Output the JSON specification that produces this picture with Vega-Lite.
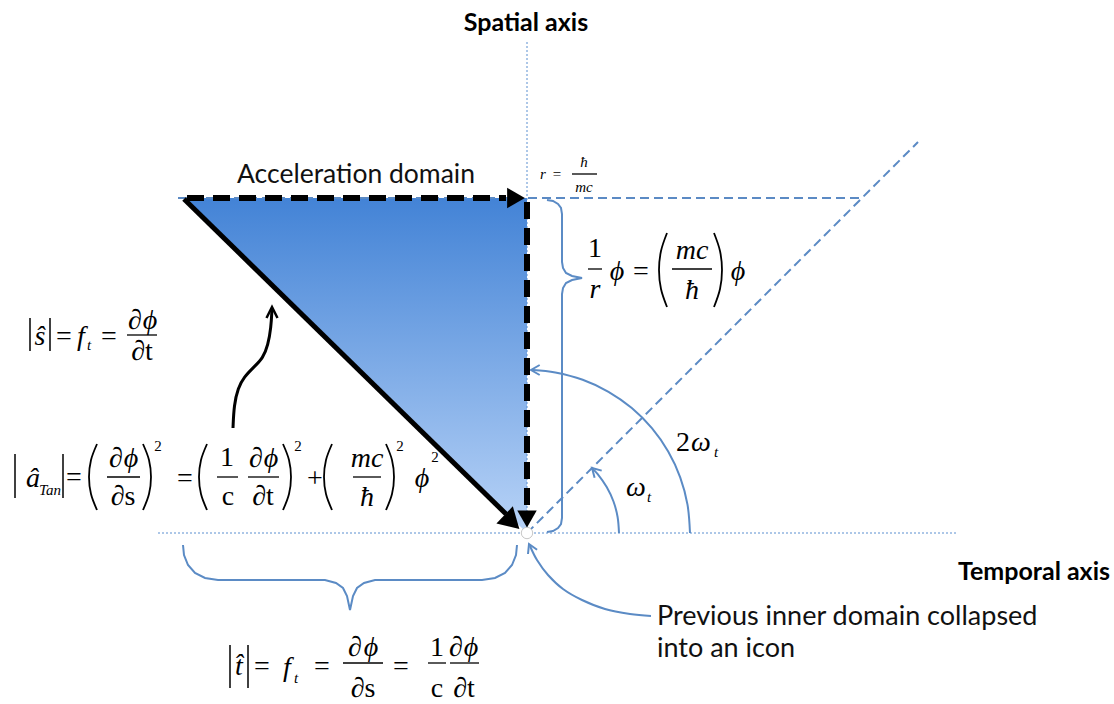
{
  "$schema": "https://vega.github.io/schema/vega-lite/v6.json",
  "width": 1114,
  "height": 704,
  "autosize": {"type": "none"},
  "padding": 0,
  "background": "white",
  "config": {"view": {"stroke": null}},
  "datasets": {
    "tri": [{"x": 183, "y": 198, "y2": 198}, {"x": 527, "y": 198, "y2": 533}],
    "lines": [
      {"g": "dot", "id": "va", "o": 0, "x": 527, "y": 42}, {"g": "dot", "id": "va", "o": 1, "x": 527, "y": 533},
      {"g": "dot", "id": "ha", "o": 0, "x": 158, "y": 533}, {"g": "dot", "id": "ha", "o": 1, "x": 958, "y": 533},
      {"g": "dash", "id": "hd", "o": 0, "x": 178, "y": 198}, {"g": "dash", "id": "hd", "o": 1, "x": 862, "y": 198},
      {"g": "dash", "id": "dd", "o": 0, "x": 527, "y": 533}, {"g": "dash", "id": "dd", "o": 1, "x": 918, "y": 142},
      {"g": "kd", "id": "kh", "o": 0, "x": 187, "y": 198}, {"g": "kd", "id": "kh", "o": 1, "x": 506, "y": 198},
      {"g": "kd", "id": "kv", "o": 0, "x": 527, "y": 202}, {"g": "kd", "id": "kv", "o": 1, "x": 527, "y": 510},
      {"g": "ks", "id": "kg", "o": 0, "x": 184, "y": 199}, {"g": "ks", "id": "kg", "o": 1, "x": 506, "y": 514},
      {"g": "kc", "id": "cur", "o": 0, "x": 233, "y": 428}, {"g": "kc", "id": "cur", "o": 1, "x": 234, "y": 405},
      {"g": "kc", "id": "cur", "o": 2, "x": 238, "y": 388}, {"g": "kc", "id": "cur", "o": 3, "x": 244, "y": 377},
      {"g": "kc", "id": "cur", "o": 4, "x": 254, "y": 367}, {"g": "kc", "id": "cur", "o": 5, "x": 263, "y": 358},
      {"g": "kc", "id": "cur", "o": 6, "x": 268, "y": 345}, {"g": "kc", "id": "cur", "o": 7, "x": 271, "y": 328},
      {"g": "kc", "id": "cur", "o": 8, "x": 272, "y": 309},
      {"g": "kch", "id": "ch0", "o": 0, "x": 266.5, "y": 318}, {"g": "kch", "id": "ch0", "o": 1, "x": 272, "y": 307}, {"g": "kch", "id": "ch0", "o": 2, "x": 277.5, "y": 318},
      {"g": "bl", "id": "rb", "o": 0, "x": 547, "y": 200}, {"g": "bl", "id": "rb", "o": 1, "x": 553, "y": 201},
      {"g": "bl", "id": "rb", "o": 2, "x": 558, "y": 204}, {"g": "bl", "id": "rb", "o": 3, "x": 561, "y": 208},
      {"g": "bl", "id": "rb", "o": 4, "x": 562, "y": 214}, {"g": "bl", "id": "rb", "o": 5, "x": 562, "y": 262},
      {"g": "bl", "id": "rb", "o": 6, "x": 563, "y": 268}, {"g": "bl", "id": "rb", "o": 7, "x": 566, "y": 273},
      {"g": "bl", "id": "rb", "o": 8, "x": 572, "y": 276}, {"g": "bl", "id": "rb", "o": 9, "x": 582, "y": 278},
      {"g": "bl", "id": "rb", "o": 10, "x": 572, "y": 280}, {"g": "bl", "id": "rb", "o": 11, "x": 566, "y": 283},
      {"g": "bl", "id": "rb", "o": 12, "x": 563, "y": 288}, {"g": "bl", "id": "rb", "o": 13, "x": 562, "y": 294},
      {"g": "bl", "id": "rb", "o": 14, "x": 562, "y": 518}, {"g": "bl", "id": "rb", "o": 15, "x": 561, "y": 524},
      {"g": "bl", "id": "rb", "o": 16, "x": 558, "y": 528}, {"g": "bl", "id": "rb", "o": 17, "x": 553, "y": 531},
      {"g": "bl", "id": "rb", "o": 18, "x": 547, "y": 532},
      {"g": "bl", "id": "bb", "o": 0, "x": 183, "y": 545}, {"g": "bl", "id": "bb", "o": 1, "x": 184, "y": 555},
      {"g": "bl", "id": "bb", "o": 2, "x": 188, "y": 565}, {"g": "bl", "id": "bb", "o": 3, "x": 195, "y": 573},
      {"g": "bl", "id": "bb", "o": 4, "x": 205, "y": 578}, {"g": "bl", "id": "bb", "o": 5, "x": 218, "y": 580},
      {"g": "bl", "id": "bb", "o": 6, "x": 325, "y": 580}, {"g": "bl", "id": "bb", "o": 7, "x": 336, "y": 583},
      {"g": "bl", "id": "bb", "o": 8, "x": 343, "y": 588}, {"g": "bl", "id": "bb", "o": 9, "x": 347, "y": 596},
      {"g": "bl", "id": "bb", "o": 10, "x": 350, "y": 610}, {"g": "bl", "id": "bb", "o": 11, "x": 353, "y": 596},
      {"g": "bl", "id": "bb", "o": 12, "x": 357, "y": 588}, {"g": "bl", "id": "bb", "o": 13, "x": 364, "y": 583},
      {"g": "bl", "id": "bb", "o": 14, "x": 375, "y": 580}, {"g": "bl", "id": "bb", "o": 15, "x": 482, "y": 580},
      {"g": "bl", "id": "bb", "o": 16, "x": 495, "y": 578}, {"g": "bl", "id": "bb", "o": 17, "x": 505, "y": 573},
      {"g": "bl", "id": "bb", "o": 18, "x": 512, "y": 565}, {"g": "bl", "id": "bb", "o": 19, "x": 516, "y": 555},
      {"g": "bl", "id": "bb", "o": 20, "x": 517, "y": 545},
      {"g": "blc", "id": "a2", "o": 0, "x": 690, "y": 533}, {"g": "blc", "id": "a2", "o": 1, "x": 687.5, "y": 504.7},
      {"g": "blc", "id": "a2", "o": 2, "x": 680.2, "y": 477.3}, {"g": "blc", "id": "a2", "o": 3, "x": 668.2, "y": 451.5},
      {"g": "blc", "id": "a2", "o": 4, "x": 651.9, "y": 428.2}, {"g": "blc", "id": "a2", "o": 5, "x": 631.8, "y": 408.1},
      {"g": "blc", "id": "a2", "o": 6, "x": 608.5, "y": 391.8}, {"g": "blc", "id": "a2", "o": 7, "x": 582.7, "y": 379.8},
      {"g": "blc", "id": "a2", "o": 8, "x": 555.3, "y": 372.5}, {"g": "blc", "id": "a2", "o": 9, "x": 533, "y": 370.1},
      {"g": "blc", "id": "a1", "o": 0, "x": 619, "y": 533}, {"g": "blc", "id": "a1", "o": 1, "x": 617.6, "y": 517},
      {"g": "blc", "id": "a1", "o": 2, "x": 613.5, "y": 501.5}, {"g": "blc", "id": "a1", "o": 3, "x": 606.7, "y": 487},
      {"g": "blc", "id": "a1", "o": 4, "x": 597.5, "y": 473.9}, {"g": "blc", "id": "a1", "o": 5, "x": 592, "y": 468.5},
      {"g": "blc", "id": "co", "o": 0, "x": 651, "y": 616}, {"g": "blc", "id": "co", "o": 1, "x": 630, "y": 614},
      {"g": "blc", "id": "co", "o": 2, "x": 605, "y": 609}, {"g": "blc", "id": "co", "o": 3, "x": 582, "y": 600},
      {"g": "blc", "id": "co", "o": 4, "x": 563, "y": 589}, {"g": "blc", "id": "co", "o": 5, "x": 548, "y": 575},
      {"g": "blc", "id": "co", "o": 6, "x": 537, "y": 560}, {"g": "blc", "id": "co", "o": 7, "x": 530, "y": 546},
      {"g": "blv", "id": "c2", "o": 0, "x": 539.7, "y": 365}, {"g": "blv", "id": "c2", "o": 1, "x": 531, "y": 370}, {"g": "blv", "id": "c2", "o": 2, "x": 539.7, "y": 375},
      {"g": "blv", "id": "c1", "o": 0, "x": 601.7, "y": 470.6}, {"g": "blv", "id": "c1", "o": 1, "x": 592, "y": 468}, {"g": "blv", "id": "c1", "o": 2, "x": 594.6, "y": 477.7},
      {"g": "blv", "id": "cc", "o": 0, "x": 537.1, "y": 549.8}, {"g": "blv", "id": "cc", "o": 1, "x": 529, "y": 544}, {"g": "blv", "id": "cc", "o": 2, "x": 528, "y": 554},
      {"g": "par", "id": "p1", "o": 0, "x": 97, "y": 444}, {"g": "par", "id": "p1", "o": 1, "x": 91, "y": 460}, {"g": "par", "id": "p1", "o": 2, "x": 89, "y": 477}, {"g": "par", "id": "p1", "o": 3, "x": 91, "y": 494}, {"g": "par", "id": "p1", "o": 4, "x": 97, "y": 510},
      {"g": "par", "id": "p2", "o": 0, "x": 143, "y": 444}, {"g": "par", "id": "p2", "o": 1, "x": 149, "y": 460}, {"g": "par", "id": "p2", "o": 2, "x": 151, "y": 477}, {"g": "par", "id": "p2", "o": 3, "x": 149, "y": 494}, {"g": "par", "id": "p2", "o": 4, "x": 143, "y": 510},
      {"g": "par", "id": "p3", "o": 0, "x": 207, "y": 444}, {"g": "par", "id": "p3", "o": 1, "x": 201, "y": 460}, {"g": "par", "id": "p3", "o": 2, "x": 199, "y": 477}, {"g": "par", "id": "p3", "o": 3, "x": 201, "y": 494}, {"g": "par", "id": "p3", "o": 4, "x": 207, "y": 510},
      {"g": "par", "id": "p4", "o": 0, "x": 283, "y": 444}, {"g": "par", "id": "p4", "o": 1, "x": 289, "y": 460}, {"g": "par", "id": "p4", "o": 2, "x": 291, "y": 477}, {"g": "par", "id": "p4", "o": 3, "x": 289, "y": 494}, {"g": "par", "id": "p4", "o": 4, "x": 283, "y": 510},
      {"g": "par", "id": "p5", "o": 0, "x": 332, "y": 444}, {"g": "par", "id": "p5", "o": 1, "x": 326, "y": 460}, {"g": "par", "id": "p5", "o": 2, "x": 324, "y": 477}, {"g": "par", "id": "p5", "o": 3, "x": 326, "y": 494}, {"g": "par", "id": "p5", "o": 4, "x": 332, "y": 510},
      {"g": "par", "id": "p6", "o": 0, "x": 386, "y": 444}, {"g": "par", "id": "p6", "o": 1, "x": 392, "y": 460}, {"g": "par", "id": "p6", "o": 2, "x": 394, "y": 477}, {"g": "par", "id": "p6", "o": 3, "x": 392, "y": 494}, {"g": "par", "id": "p6", "o": 4, "x": 386, "y": 510},
      {"g": "par", "id": "p7", "o": 0, "x": 667, "y": 233}, {"g": "par", "id": "p7", "o": 1, "x": 661, "y": 251}, {"g": "par", "id": "p7", "o": 2, "x": 659, "y": 270}, {"g": "par", "id": "p7", "o": 3, "x": 661, "y": 289}, {"g": "par", "id": "p7", "o": 4, "x": 667, "y": 307},
      {"g": "par", "id": "p8", "o": 0, "x": 714, "y": 233}, {"g": "par", "id": "p8", "o": 1, "x": 720, "y": 251}, {"g": "par", "id": "p8", "o": 2, "x": 722, "y": 270}, {"g": "par", "id": "p8", "o": 3, "x": 720, "y": 289}, {"g": "par", "id": "p8", "o": 4, "x": 714, "y": 307}
    ],
    "bars": [
      {"x": 127, "x2": 157, "y": 335},
      {"x": 107, "x2": 140, "y": 477}, {"x": 217, "x2": 238, "y": 477}, {"x": 248, "x2": 279, "y": 477}, {"x": 353, "x2": 381, "y": 477},
      {"x": 588, "x2": 602, "y": 269}, {"x": 672, "x2": 712, "y": 269},
      {"x": 572, "x2": 597, "y": 174},
      {"x": 343, "x2": 383, "y": 663}, {"x": 428, "x2": 446, "y": 663}, {"x": 450, "x2": 479, "y": 663}
    ],
    "vbars": [
      {"x": 30, "y": 318, "y2": 351}, {"x": 50, "y": 318, "y2": 351},
      {"x": 15, "y": 454, "y2": 498}, {"x": 63, "y": 454, "y2": 498},
      {"x": 230, "y": 645, "y2": 688}, {"x": 248, "y": 645, "y2": 688}
    ],
    "heads": [
      {"x": 516, "y": 198, "d": "r"}, {"x": 527, "y": 519, "d": "d"}, {"x": 512, "y": 522, "d": "dr"}
    ],
    "origin": [{"x": 527, "y": 533}],
    "txt": [
      {"k": "SB", "x": 526, "y": 23, "t": "Spatial axis"},
      {"k": "SBR", "x": 1110, "y": 572, "t": "Temporal axis"},
      {"k": "S", "x": 356, "y": 175, "t": "Acceleration domain"},
      {"k": "SL", "x": 657, "y": 617, "t": "Previous inner domain collapsed"},
      {"k": "SL", "x": 657, "y": 649, "t": "into an icon"},
      {"k": "I", "x": 40, "y": 337, "t": "ŝ"},
      {"k": "R", "x": 64, "y": 337, "t": "="},
      {"k": "I", "x": 81, "y": 337, "t": "f"},
      {"k": "IS", "x": 89, "y": 345, "t": "t"},
      {"k": "R", "x": 109, "y": 337, "t": "="},
      {"k": "R", "x": 135, "y": 321, "t": "∂"},
      {"k": "I", "x": 150, "y": 321, "t": "ϕ"},
      {"k": "R", "x": 142, "y": 352, "t": "∂t"},
      {"k": "I", "x": 33, "y": 479, "t": "â"},
      {"k": "IS", "x": 50, "y": 490, "t": "Tan"},
      {"k": "R", "x": 74, "y": 478, "t": "="},
      {"k": "R", "x": 116, "y": 459, "t": "∂"},
      {"k": "I", "x": 131, "y": 459, "t": "ϕ"},
      {"k": "R", "x": 123, "y": 497, "t": "∂s"},
      {"k": "RS", "x": 158, "y": 446, "t": "2"},
      {"k": "R", "x": 185, "y": 479, "t": "="},
      {"k": "R", "x": 227, "y": 458, "t": "1"},
      {"k": "R", "x": 228, "y": 497, "t": "c"},
      {"k": "R", "x": 256, "y": 459, "t": "∂"},
      {"k": "I", "x": 271, "y": 459, "t": "ϕ"},
      {"k": "R", "x": 263, "y": 497, "t": "∂t"},
      {"k": "RS", "x": 298, "y": 446, "t": "2"},
      {"k": "R", "x": 315, "y": 479, "t": "+"},
      {"k": "I", "x": 367, "y": 459, "t": "mc"},
      {"k": "I", "x": 367, "y": 498, "t": "ħ"},
      {"k": "RS", "x": 400, "y": 446, "t": "2"},
      {"k": "I", "x": 422, "y": 479, "t": "ϕ"},
      {"k": "RS", "x": 435, "y": 457, "t": "2"},
      {"k": "R", "x": 595, "y": 249, "t": "1"},
      {"k": "I", "x": 595, "y": 290, "t": "r"},
      {"k": "I", "x": 617, "y": 272, "t": "ϕ"},
      {"k": "R", "x": 641, "y": 272, "t": "="},
      {"k": "I", "x": 692, "y": 251, "t": "mc"},
      {"k": "I", "x": 692, "y": 291, "t": "ħ"},
      {"k": "I", "x": 738, "y": 272, "t": "ϕ"},
      {"k": "IS", "x": 543, "y": 174, "t": "r"},
      {"k": "RS", "x": 557, "y": 174, "t": "="},
      {"k": "IS", "x": 584, "y": 162, "t": "ħ"},
      {"k": "IS", "x": 584, "y": 187, "t": "mc"},
      {"k": "I", "x": 239, "y": 667, "t": "t̂"},
      {"k": "R", "x": 262, "y": 667, "t": "="},
      {"k": "I", "x": 287, "y": 668, "t": "f"},
      {"k": "IS", "x": 296, "y": 678, "t": "t"},
      {"k": "R", "x": 322, "y": 667, "t": "="},
      {"k": "R", "x": 355, "y": 648, "t": "∂"},
      {"k": "I", "x": 371, "y": 648, "t": "ϕ"},
      {"k": "R", "x": 363, "y": 689, "t": "∂s"},
      {"k": "R", "x": 401, "y": 667, "t": "="},
      {"k": "R", "x": 437, "y": 648, "t": "1"},
      {"k": "R", "x": 437, "y": 689, "t": "c"},
      {"k": "R", "x": 456, "y": 648, "t": "∂"},
      {"k": "I", "x": 471, "y": 648, "t": "ϕ"},
      {"k": "R", "x": 464, "y": 689, "t": "∂t"},
      {"k": "R", "x": 683, "y": 443, "t": "2"},
      {"k": "I", "x": 701, "y": 443, "t": "ω"},
      {"k": "IS", "x": 716, "y": 452, "t": "t"},
      {"k": "I", "x": 636, "y": 488, "t": "ω"},
      {"k": "IS", "x": 649, "y": 497, "t": "t"}
    ]
  },
  "encoding": {
    "x": {"field": "x", "type": "quantitative", "scale": {"domain": [0, 1114], "nice": false, "zero": false}, "axis": null},
    "y": {"field": "y", "type": "quantitative", "scale": {"domain": [0, 704], "reverse": true, "nice": false, "zero": false}, "axis": null}
  },
  "layer": [
    {
      "data": {"name": "tri"},
      "mark": {"type": "area", "color": {"gradient": "linear", "x1": 0, "y1": 0, "x2": 0, "y2": 1, "stops": [{"offset": 0, "color": "#4383d6"}, {"offset": 1, "color": "#b8d3f7"}]}},
      "encoding": {"y2": {"field": "y2"}}
    },
    {
      "data": {"name": "lines"},
      "transform": [{"filter": "datum.g == 'dot'"}],
      "mark": {"type": "line", "color": "#5b8fd0", "strokeWidth": 1, "strokeDash": [2, 2]},
      "encoding": {"detail": {"field": "id"}, "order": {"field": "o"}}
    },
    {
      "data": {"name": "lines"},
      "transform": [{"filter": "datum.g == 'dash'"}],
      "mark": {"type": "line", "color": "#5b8ac4", "strokeWidth": 2, "strokeDash": [9, 5]},
      "encoding": {"detail": {"field": "id"}, "order": {"field": "o"}}
    },
    {
      "data": {"name": "lines"},
      "transform": [{"filter": "datum.g == 'bl'"}],
      "mark": {"type": "line", "color": "#5b8bc5", "strokeWidth": 2},
      "encoding": {"detail": {"field": "id"}, "order": {"field": "o"}}
    },
    {
      "data": {"name": "lines"},
      "transform": [{"filter": "datum.g == 'blc'"}],
      "mark": {"type": "line", "color": "#5b8bc5", "strokeWidth": 2, "interpolate": "cardinal"},
      "encoding": {"detail": {"field": "id"}, "order": {"field": "o"}}
    },
    {
      "data": {"name": "lines"},
      "transform": [{"filter": "datum.g == 'blv'"}],
      "mark": {"type": "line", "color": "#5b8bc5", "strokeWidth": 2},
      "encoding": {"detail": {"field": "id"}, "order": {"field": "o"}}
    },
    {
      "data": {"name": "lines"},
      "transform": [{"filter": "datum.g == 'kd'"}],
      "mark": {"type": "line", "color": "black", "strokeWidth": 6, "strokeDash": [17, 9]},
      "encoding": {"detail": {"field": "id"}, "order": {"field": "o"}}
    },
    {
      "data": {"name": "lines"},
      "transform": [{"filter": "datum.g == 'ks'"}],
      "mark": {"type": "line", "color": "black", "strokeWidth": 5},
      "encoding": {"detail": {"field": "id"}, "order": {"field": "o"}}
    },
    {
      "data": {"name": "lines"},
      "transform": [{"filter": "datum.g == 'kc'"}],
      "mark": {"type": "line", "color": "black", "strokeWidth": 3, "interpolate": "basis"},
      "encoding": {"detail": {"field": "id"}, "order": {"field": "o"}}
    },
    {
      "data": {"name": "lines"},
      "transform": [{"filter": "datum.g == 'kch'"}],
      "mark": {"type": "line", "color": "black", "strokeWidth": 2.5},
      "encoding": {"detail": {"field": "id"}, "order": {"field": "o"}}
    },
    {
      "data": {"name": "lines"},
      "transform": [{"filter": "datum.g == 'par'"}],
      "mark": {"type": "line", "color": "black", "strokeWidth": 1.8, "interpolate": "cardinal"},
      "encoding": {"detail": {"field": "id"}, "order": {"field": "o"}}
    },
    {
      "data": {"name": "heads"},
      "transform": [{"filter": "datum.d == 'r'"}],
      "mark": {"type": "point", "shape": "triangle-right", "filled": true, "color": "black", "size": 420, "opacity": 1, "angle": 0}
    },
    {
      "data": {"name": "heads"},
      "transform": [{"filter": "datum.d == 'd'"}],
      "mark": {"type": "point", "shape": "triangle-right", "filled": true, "color": "black", "size": 380, "opacity": 1, "angle": 90}
    },
    {
      "data": {"name": "heads"},
      "transform": [{"filter": "datum.d == 'dr'"}],
      "mark": {"type": "point", "shape": "triangle-right", "filled": true, "color": "black", "size": 560, "opacity": 1, "angle": 44}
    },
    {
      "data": {"name": "origin"},
      "mark": {"type": "point", "shape": "circle", "filled": true, "fill": "white", "stroke": "#c8c8c8", "strokeWidth": 1, "size": 130, "opacity": 1}
    },
    {
      "data": {"name": "bars"},
      "mark": {"type": "rule", "color": "black", "strokeWidth": 1.3},
      "encoding": {"x2": {"field": "x2"}}
    },
    {
      "data": {"name": "vbars"},
      "mark": {"type": "rule", "color": "black", "strokeWidth": 1.5},
      "encoding": {"y2": {"field": "y2"}}
    },
    {
      "data": {"name": "txt"},
      "transform": [{"filter": "datum.k == 'R'"}],
      "mark": {"type": "text", "font": "Liberation Serif, Times New Roman, serif", "fontSize": 28, "align": "center", "baseline": "middle", "color": "black"},
      "encoding": {"text": {"field": "t"}}
    },
    {
      "data": {"name": "txt"},
      "transform": [{"filter": "datum.k == 'I'"}],
      "mark": {"type": "text", "font": "Liberation Serif, Times New Roman, serif", "fontSize": 28, "fontStyle": "italic", "align": "center", "baseline": "middle", "color": "black"},
      "encoding": {"text": {"field": "t"}}
    },
    {
      "data": {"name": "txt"},
      "transform": [{"filter": "datum.k == 'RS'"}],
      "mark": {"type": "text", "font": "Liberation Serif, Times New Roman, serif", "fontSize": 15, "align": "center", "baseline": "middle", "color": "black"},
      "encoding": {"text": {"field": "t"}}
    },
    {
      "data": {"name": "txt"},
      "transform": [{"filter": "datum.k == 'IS'"}],
      "mark": {"type": "text", "font": "Liberation Serif, Times New Roman, serif", "fontSize": 15, "fontStyle": "italic", "align": "center", "baseline": "middle", "color": "black"},
      "encoding": {"text": {"field": "t"}}
    },
    {
      "data": {"name": "txt"},
      "transform": [{"filter": "datum.k == 'SB'"}],
      "mark": {"type": "text", "font": "Lato", "fontSize": 25, "fontWeight": "bold", "align": "center", "baseline": "middle", "color": "black"},
      "encoding": {"text": {"field": "t"}}
    },
    {
      "data": {"name": "txt"},
      "transform": [{"filter": "datum.k == 'SBR'"}],
      "mark": {"type": "text", "font": "Lato", "fontSize": 25, "fontWeight": "bold", "align": "right", "baseline": "middle", "color": "black"},
      "encoding": {"text": {"field": "t"}}
    },
    {
      "data": {"name": "txt"},
      "transform": [{"filter": "datum.k == 'S'"}],
      "mark": {"type": "text", "font": "Lato", "fontSize": 26.5, "align": "center", "baseline": "middle", "color": "#111111"},
      "encoding": {"text": {"field": "t"}}
    },
    {
      "data": {"name": "txt"},
      "transform": [{"filter": "datum.k == 'SL'"}],
      "mark": {"type": "text", "font": "Lato", "fontSize": 27, "align": "left", "baseline": "middle", "color": "#111111"},
      "encoding": {"text": {"field": "t"}}
    }
  ]
}
